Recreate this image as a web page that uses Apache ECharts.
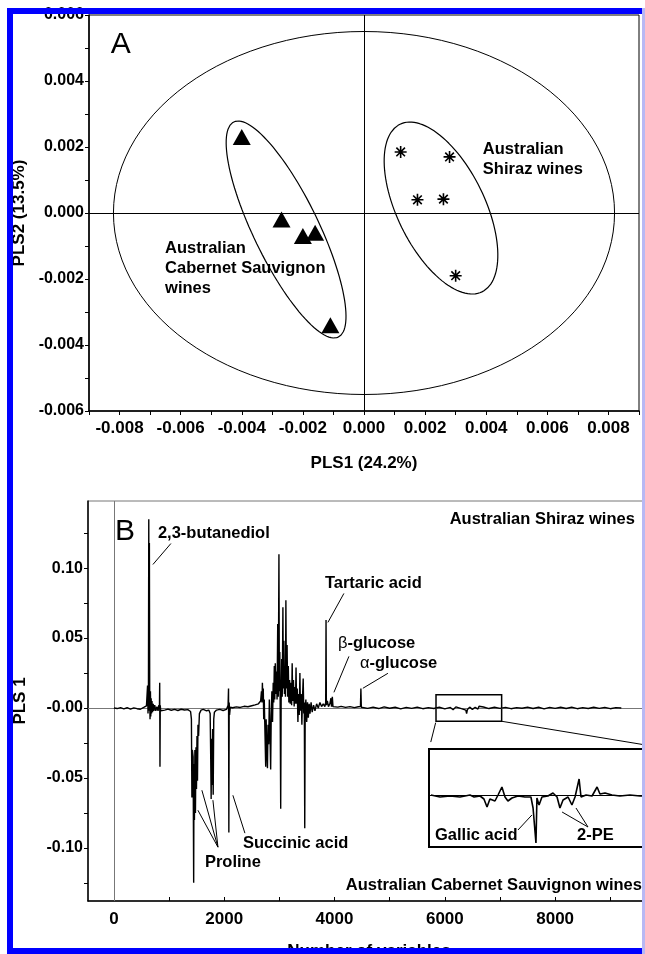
<!DOCTYPE html>
<html>
<head>
<meta charset="utf-8">
<script src="https://cdn.jsdelivr.net/npm/echarts@6/dist/echarts.min.js"></script>
<style>
html, body { margin: 0; padding: 0; background: #fff; }
#main { width: 645px; height: 954px; }
</style>
</head>
<body>
<div id="main"></div>
<script>
// ---- panel A: PLS scores (PLS1 vs PLS2) ----
const cabernetScores = [[-0.0040, 0.0023], [-0.0027, -0.0002], [-0.0020, -0.0007], [-0.0016, -0.0006], [-0.0011, -0.0034]];
const shirazScores = [[0.0012, 0.00185], [0.0028, 0.0017], [0.00175, 0.0004], [0.0026, 0.00042], [0.0030, -0.0019]];

// confidence ellipses: centre and the two half-axis vectors (all, Cabernet, Shiraz)
const ellipseCentres = [[0, 0], [-0.00255, -0.0005], [0.00252, 0.00015]];
const ellipseAxisU = [[0.0082, 0], [0.00171, -0.00326], [0.00134, -0.00254]];
const ellipseAxisV = [[0, 0.0055], [0.00096, 0.00043], [0.00129, 0.00058]];

// ---- panel B: PLS1 loadings vs variable number ----
const pls1Loadings = [
  [0, 0], [60, -0.0004], [120, 0.0003], [180, -0.0006], [240, 0.0002], [300, -0.0008], [360, 0.0001], [420, -0.0005],
  [480, -0.0009], [540, 0.0004], [590, 0.0015], [610, 0.016], [618, -0.004], [626, 0.012], [632, 0.135], [637, -0.002],
  [643, 0.118], [649, 0.006], [655, -0.008], [662, 0.012], [668, -0.006], [675, 0.007], [682, -0.004], [690, 0.005],
  [700, -0.003], [712, 0.003], [725, -0.002], [740, 0.002], [760, -0.002], [780, 0.001], [800, -0.002], [815, 0.002],
  [825, -0.001], [830, 0.018], [835, -0.042], [840, 0.002], [848, -0.002], [870, -0.001], [920, -0.0015], [980, -0.0008],
  [1040, -0.0016], [1100, -0.001], [1160, -0.0018], [1220, -0.0009], [1280, -0.0014], [1340, -0.0012], [1390, -0.0025],
  [1405, -0.008], [1414, -0.064], [1422, -0.03], [1436, -0.035], [1446, -0.125], [1452, -0.04], [1460, -0.08],
  [1468, -0.03], [1478, -0.075], [1488, -0.028], [1497, -0.058], [1506, -0.02], [1515, -0.052], [1524, -0.012],
  [1535, -0.02], [1550, -0.004], [1580, -0.0015], [1620, -0.001], [1680, -0.002], [1720, -0.0015], [1745, -0.004],
  [1755, -0.035], [1763, -0.065], [1771, -0.022], [1781, -0.055], [1790, -0.015], [1800, -0.062], [1810, -0.008],
  [1822, -0.003], [1860, -0.0015], [1920, -0.001], [1980, -0.0018], [2040, -0.001], [2070, 0.002], [2078, 0.014],
  [2084, -0.089], [2090, 0.004], [2097, -0.005], [2110, 0.0005], [2150, 0.0002], [2220, 0.0008], [2290, 0.0004],
  [2360, 0.0012], [2430, 0.0009], [2500, 0.0016], [2560, 0.0022], [2620, 0.003], [2660, 0.005], [2675, 0.012],
  [2685, 0.004], [2692, 0.018], [2700, 0.006], [2708, 0.014], [2716, -0.008], [2726, 0.006], [2740, -0.02],
  [2752, -0.042], [2760, -0.008], [2772, -0.03], [2784, -0.043], [2794, -0.012], [2806, -0.026], [2818, 0.006],
  [2830, -0.018], [2842, -0.044], [2852, -0.006], [2864, 0.012], [2876, -0.01], [2888, 0.018], [2898, 0.004],
  [2908, 0.03], [2916, 0.006], [2926, 0.032], [2936, 0.01], [2948, 0.026], [2958, 0.006], [2970, 0.06], [2980, 0.008],
  [2992, 0.110], [3000, 0.012], [3008, 0.04], [3014, 0.006], [3024, -0.072], [3032, 0.004], [3042, 0.035], [3052, 0.008],
  [3064, 0.072], [3072, 0.014], [3082, 0.048], [3092, 0.01], [3102, 0.03], [3110, 0.008], [3118, 0.077], [3128, 0.014],
  [3140, 0.045], [3150, 0.008], [3162, 0.03], [3172, 0.004], [3185, 0.02], [3196, 0.003], [3210, 0.018], [3222, 0.002],
  [3232, 0.032], [3242, 0.005], [3255, 0.02], [3268, 0.001], [3280, 0.015], [3292, 0.003], [3302, 0.029], [3312, 0.003],
  [3324, 0.014], [3336, -0.01], [3348, 0.01], [3360, -0.005], [3372, 0.025], [3382, -0.002], [3395, 0.01],
  [3408, -0.012], [3420, 0.008], [3432, 0.021], [3442, -0.004], [3452, 0.004], [3460, -0.086], [3468, -0.004],
  [3480, 0.006], [3495, -0.01], [3510, 0.004], [3525, -0.007], [3540, 0.003], [3555, -0.004], [3575, 0.004],
  [3595, -0.003], [3620, 0.002], [3645, -0.002], [3675, 0.003], [3705, 0], [3735, 0.004], [3765, 0.001], [3795, 0.003],
  [3825, 0.001], [3840, 0.004], [3846, 0.063], [3852, 0.002], [3870, 0.005], [3890, 0.001], [3915, 0.003], [3935, 0.007],
  [3945, 0.001], [3960, 0.008], [3972, 0.001], [4000, 0.002], [4060, 0.0006], [4120, 0.0012], [4200, 0.0004],
  [4280, 0.001], [4360, 0.0003], [4430, 0.0009], [4470, 0.001], [4478, 0.014], [4486, 0.0005], [4520, 0.0012],
  [4600, -0.0003], [4700, 0.0006], [4800, -0.0004], [4900, 0.0008], [5000, -0.0002], [5100, 0.0005], [5200, -0.0006],
  [5300, 0.0004], [5400, -0.0003], [5500, 0.0006], [5600, -0.0005], [5700, 0.0003], [5800, -0.0004], [5900, 0.0005],
  [6000, -0.0006], [6100, 0.0004], [6150, -0.0012], [6200, 0.0008], [6300, -0.0005], [6380, -0.0015], [6395, -0.004],
  [6410, -0.001], [6450, 0.0006], [6500, -0.001], [6550, 0.0005], [6600, -0.0008], [6620, 0.0012], [6700, 0.0007],
  [6800, -0.0004], [6900, 0.0005], [7000, -0.0003], [7100, 0.0004], [7200, -0.0005], [7300, 0.0003], [7400, -0.0002],
  [7500, 0.0006], [7600, -0.0004], [7700, 0.0005], [7800, -0.0006], [7900, 0.0004], [8000, -0.0003], [8100, 0.0005],
  [8200, -0.0004], [8300, 0.0006], [8400, -0.0005], [8500, 0.0003], [8600, -0.0004], [8700, 0.0005], [8800, -0.0003],
  [8900, 0.0004], [9000, -0.0005], [9100, 0.0003], [9200, 0]
];

// zoomed region (variables 5840-7030), own vertical scale
const insetLoadings = [
  [5850, 0], [5897, -0.0002], [5949, -0.0001], [6000, -0.0002], [6052, 0], [6073, -0.0002], [6104, -0.0001],
  [6124, -0.0004], [6140, -0.0012], [6155, -0.0004], [6181, -0.0006], [6197, 0], [6217, 0.0008], [6233, -0.0002],
  [6248, -0.0006], [6269, -0.0003], [6300, -0.0001], [6336, -0.0002], [6367, -0.0002], [6378, -0.0013],
  [6393, -0.0048], [6398, -0.0003], [6409, -0.001], [6424, -0.0002], [6455, -0.0001], [6481, 0.0002], [6502, -0.0002],
  [6517, -0.0013], [6533, -0.0005], [6559, -0.0002], [6579, -0.001], [6595, -0.0002], [6616, 0.0016], [6626, -0.0002],
  [6652, 0], [6683, -0.0001], [6709, 0.0008], [6724, 0.0001], [6750, 0.0002], [6786, 0], [6827, -0.0001], [6879, 0],
  [6931, -0.0001], [6957, -0.0001]
];
const zoomRange = [5840, 7030];

// axis ticks / labels
const xTicksB = [0, 1000, 2000, 3000, 4000, 5000, 6000, 7000, 8000, 9000];
const xLabelsB = [0, 2000, 4000, 6000, 8000];
const yTicksB = [-0.125, -0.1, -0.075, -0.05, -0.025, 0, 0.025, 0.05, 0.075, 0.1, 0.125];
const yLabelsB = [-0.1, -0.05, 0, 0.05, 0.1];

const FONT = 'Liberation Sans, Arial, sans-serif';

function ellipsePoints(i) {
  const pts = [];
  const c = ellipseCentres[i], u = ellipseAxisU[i], v = ellipseAxisV[i];
  for (let k = 0; k <= 120; k++) {
    const t = k / 120 * Math.PI * 2;
    pts.push([c[0] + u[0] * Math.cos(t) + v[0] * Math.sin(t), c[1] + u[1] * Math.cos(t) + v[1] * Math.sin(t)]);
  }
  return pts;
}

const fmtA = v => (Math.round(v * 1000) % 2 === 0 ? (Math.round(v * 1000) / 1000).toFixed(3) : '');
const fmtB = v => (Math.abs(v) < 1e-9 ? '-0.00' : v.toFixed(2));

const boldText = { fontFamily: FONT, fontWeight: 'bold', color: '#000' };
const blackLine = { color: '#000', width: 1.5 };
const asterisk = 'path://M0,-6L0,6M-6,0L6,0M-4.3,-4.3L4.3,4.3M-4.3,4.3L4.3,-4.3';

const chart = echarts.init(document.getElementById('main'));

const option = {
  animation: false,
  backgroundColor: '#fff',
  grid: [
    { left: 89, top: 15, width: 550, height: 396, show: true, borderColor: '#000', borderWidth: 1, containLabel: false, outerBoundsMode: 'none' },
    { left: 88, top: 501, width: 562, height: 400, show: true, borderColor: '#777', borderWidth: 1, containLabel: false, outerBoundsMode: 'none' },
    { left: 429, top: 749, width: 241, height: 98, show: true, borderColor: '#000', borderWidth: 2, backgroundColor: '#fff', containLabel: false, outerBoundsMode: 'none' }
  ],
  xAxis: [
    {
      gridIndex: 0, type: 'value', min: -0.009, max: 0.009, interval: 0.001,
      axisLine: { onZero: false, lineStyle: blackLine },
      axisTick: { length: 4, lineStyle: { color: '#000' } },
      splitLine: { show: false },
      axisLabel: { formatter: fmtA, margin: 9, fontSize: 17, ...boldText },
      name: 'PLS1 (24.2%)', nameLocation: 'middle', nameGap: 44,
      nameTextStyle: { fontSize: 17, ...boldText }
    },
    {
      gridIndex: 1, type: 'value', min: -470, max: 9720,
      axisLine: { onZero: false, lineStyle: blackLine },
      axisTick: { customValues: xTicksB, inside: true, length: 4, lineStyle: { color: '#000' } },
      splitLine: { show: false },
      axisLabel: { customValues: xLabelsB, formatter: v => String(Math.round(v)), margin: 10, fontSize: 17, ...boldText },
      name: 'Number of variables', nameLocation: 'middle', nameGap: 42,
      nameTextStyle: { fontSize: 17, ...boldText }
    },
    { gridIndex: 2, type: 'value', min: zoomRange[0], max: 7086, show: false }
  ],
  yAxis: [
    {
      gridIndex: 0, type: 'value', min: -0.006, max: 0.006, interval: 0.001,
      axisLine: { onZero: false, lineStyle: blackLine },
      axisTick: { length: 4, lineStyle: { color: '#000' } },
      splitLine: { show: false },
      axisLabel: { formatter: fmtA, margin: 5, fontSize: 16, ...boldText },
      name: 'PLS2 (13.5%)', nameLocation: 'middle', nameGap: 60, nameRotate: 90,
      nameTextStyle: { fontSize: 17, ...boldText }
    },
    {
      gridIndex: 1, type: 'value', min: -0.138, max: 0.148,
      axisLine: { onZero: false, lineStyle: blackLine },
      axisTick: { customValues: yTicksB, length: 4, lineStyle: { color: '#000' } },
      splitLine: { show: false },
      axisLabel: { customValues: yLabelsB, formatter: fmtB, margin: 5, fontSize: 16, ...boldText },
      name: 'PLS 1', nameLocation: 'middle', nameGap: 59, nameRotate: 90,
      nameTextStyle: { fontSize: 17, ...boldText }
    },
    { gridIndex: 2, type: 'value', min: -0.0052, max: 0.0046, show: false }
  ],
  series: [
    {
      type: 'line', xAxisIndex: 0, yAxisIndex: 0, data: ellipsePoints(0), showSymbol: false, symbol: 'none',
      lineStyle: { color: '#000', width: 1 }, silent: true,
      markLine: {
        silent: true, symbol: ['none', 'none'], label: { show: false },
        lineStyle: { color: '#000', width: 1, type: 'solid' },
        data: [{ xAxis: 0 }, { yAxis: 0 }]
      }
    },
    { type: 'line', xAxisIndex: 0, yAxisIndex: 0, data: ellipsePoints(1), showSymbol: false, symbol: 'none', lineStyle: { color: '#000', width: 1.2 }, silent: true },
    { type: 'line', xAxisIndex: 0, yAxisIndex: 0, data: ellipsePoints(2), showSymbol: false, symbol: 'none', lineStyle: { color: '#000', width: 1.2 }, silent: true },
    {
      type: 'scatter', xAxisIndex: 0, yAxisIndex: 0, data: cabernetScores,
      symbol: 'triangle', symbolSize: [18, 16], itemStyle: { color: '#000', opacity: 1 }
    },
    {
      type: 'scatter', xAxisIndex: 0, yAxisIndex: 0, data: shirazScores,
      symbol: asterisk, symbolSize: 12, itemStyle: { color: '#000', borderColor: '#000', borderWidth: 1.6, opacity: 1 }
    },
    {
      type: 'line', xAxisIndex: 1, yAxisIndex: 1, data: pls1Loadings, showSymbol: false, symbol: 'none',
      lineStyle: { color: '#000', width: 1.4 }, silent: true,
      markLine: {
        silent: true, z: 1, symbol: ['none', 'none'], label: { show: false },
        lineStyle: { color: '#777', width: 1, type: 'solid' },
        data: [{ xAxis: 0 }, { yAxis: 0 }]
      },
      markArea: {
        silent: true, label: { show: false },
        itemStyle: { color: 'rgba(0,0,0,0)', borderColor: '#000', borderWidth: 1.5 },
        data: [[{ coord: [zoomRange[0], 0.0095] }, { coord: [zoomRange[1], -0.0095] }]]
      }
    },
    {
      type: 'line', xAxisIndex: 2, yAxisIndex: 2, data: insetLoadings, showSymbol: false, symbol: 'none',
      lineStyle: { color: '#000', width: 1.6 }, silent: true, z: 3,
      markLine: {
        silent: true, symbol: ['none', 'none'], label: { show: false },
        lineStyle: { color: '#000', width: 1, type: 'solid' },
        data: [{ yAxis: 0 }]
      }
    }
  ]
};

chart.setOption(option);

// ---- annotations, placed in data coordinates of each panel ----
const noteGrids = [0, 0, 0, 1, 1, 1, 1, 1, 1, 1, 1, 1, 2, 2];
const notePositions = [
  [-0.00829, 0.00509], [0.00389, 0.00161], [-0.00651, -0.00167],
  [18, 0.1262], [798, 0.1248], [9446, 0.1348], [3825, 0.0891], [4061, 0.0462], [4460, 0.0319],
  [2339, -0.0966], [1650, -0.1102], [9573, -0.1269],
  [5871, -0.004], [6605, -0.004]
];
const noteTexts = [
  'A', 'Australian\nShiraz wines', 'Australian\nCabernet Sauvignon\nwines',
  'B', '2,3-butanediol', 'Australian Shiraz wines', 'Tartaric acid', '{g|β}-glucose', '{g|α}-glucose',
  'Succinic acid', 'Proline', 'Australian Cabernet Sauvignon wines',
  'Gallic acid', '2-PE'
];

const leaderGrids = [1, 1, 1, 1, 1, 1, 1, 1, 2, 2, 2];
const leaderLines = [
  [[707, 0.1026], [1033, 0.1176]],
  [[3880, 0.0612], [4170, 0.0819]],
  [[3989, 0.0112], [4261, 0.0369]],
  [[4514, 0.0141], [4968, 0.0248]],
  [[2157, -0.0624], [2375, -0.0895]],
  [[1886, -0.0995], [1523, -0.0731]],
  [[1886, -0.0995], [1595, -0.0588]],
  [[1886, -0.0995], [1795, -0.0659]],
  [[6300, -0.0035], [6372, -0.002]],
  [[6662, -0.0032], [6528, -0.0017]],
  [[6662, -0.0032], [6600, -0.0013]]
];

const toPx = (gi, p) => chart.convertToPixel({ gridIndex: gi }, p);
const graphics = [];

noteTexts.forEach((txt, i) => {
  const p = toPx(noteGrids[i], notePositions[i]);
  const big = txt === 'A' || txt === 'B';
  const rightAligned = txt.indexOf('Australian ') === 0;
  graphics.push({
    type: 'text', x: p[0], y: p[1], z: 50, silent: true,
    style: {
      text: txt, fill: '#000', fontFamily: FONT,
      fontSize: big ? 30 : 16.5, fontWeight: big ? 'normal' : 'bold',
      lineHeight: 20, align: rightAligned ? 'right' : 'left', verticalAlign: 'middle',
      rich: { g: { fontFamily: FONT, fontSize: 16.5, fontWeight: 'normal', fill: '#000' } }
    }
  });
});

leaderLines.forEach((seg, i) => {
  const a = toPx(leaderGrids[i], seg[0]);
  const b = toPx(leaderGrids[i], seg[1]);
  graphics.push({
    type: 'line', z: 50, silent: true,
    shape: { x1: a[0], y1: a[1], x2: b[0], y2: b[1] },
    style: { stroke: '#000', lineWidth: 1 }
  });
});

// lines joining the small box to the inset
const boxBL = toPx(1, [zoomRange[0], -0.0095]);
const boxBR = toPx(1, [zoomRange[1], -0.0095]);
const insetTL = toPx(2, [zoomRange[0], 0.0046]);
const insetTR = toPx(2, [7086, 0.0046]);
[[boxBL, insetTL, 0.05, 0.75], [boxBR, insetTR, 0.0, 1.0]].forEach(([a, b, t0, t1]) => {
  graphics.push({
    type: 'line', z: 50, silent: true,
    shape: {
      x1: a[0] + (b[0] - a[0]) * t0, y1: a[1] + (b[1] - a[1]) * t0,
      x2: a[0] + (b[0] - a[0]) * t1, y2: a[1] + (b[1] - a[1]) * t1
    },
    style: { stroke: '#000', lineWidth: 1 }
  });
});

// blue page frame
graphics.push(
  { type: 'rect', z: 100, silent: true, shape: { x: 7, y: 8, width: 645, height: 6 }, style: { fill: '#0000ff' } },
  { type: 'rect', z: 100, silent: true, shape: { x: 7, y: 8, width: 6, height: 946 }, style: { fill: '#0000ff' } },
  { type: 'rect', z: 100, silent: true, shape: { x: 7, y: 948, width: 645, height: 6 }, style: { fill: '#0000ff' } },
  { type: 'rect', z: 100, silent: true, shape: { x: 642, y: 8, width: 3, height: 946 }, style: { fill: '#b8b8f4' } }
);

chart.setOption({ graphic: graphics });
</script>
</body>
</html>
